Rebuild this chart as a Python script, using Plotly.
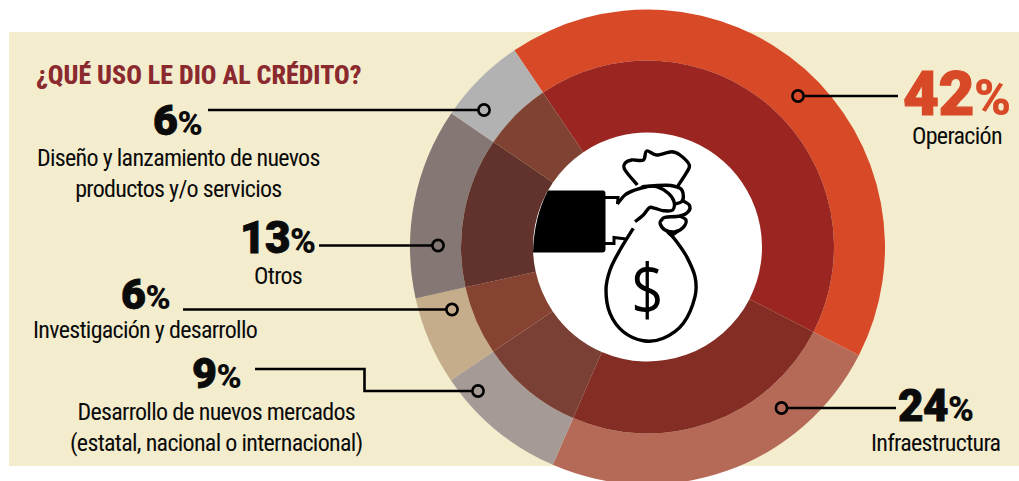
import plotly.graph_objects as go

W, H = 1019, 490  # the window shows the top 481 px; the ring runs off the bottom edge
categories = ["Operación", "Infraestructura", "Desarrollo de nuevos mercados<br>(estatal, nacional o internacional)",
              "Investigación y desarrollo", "Otros", "Diseño y lanzamiento de nuevos<br>productos y/o servicios"]
values = [42, 24, 9, 6, 13, 6]
outer_colors = ["#D84A27", "#B56A58", "#A69A97", "#C5AC8B", "#857874", "#B2B2B2"]
inner_colors = ["#9B2621", "#832D25", "#7A4036", "#874331", "#62332C", "#7F4233"]
title_text = "¿QUÉ USO LE DIO AL CRÉDITO?"

CX, CY, R_OUT, R_MID, R_IN = 647.5, 247.0, 237.5, 186.5, 114.5
ROT = 325.9
NARROW = "'Roboto Condensed', Roboto, sans-serif"
BLACK = "#0b0b0b"


def dom(r):
    return dict(x=[(CX - r) / W, (CX + r) / W], y=[1 - (CY + r) / H, 1 - (CY - r) / H])


fig = go.Figure()
for r, hole, cols in [(R_OUT, R_MID / R_OUT, outer_colors), (R_MID, R_IN / R_MID, inner_colors)]:
    fig.add_trace(go.Pie(labels=categories, values=values, hole=hole, domain=dom(r), sort=False,
                         direction="clockwise", rotation=ROT, textinfo="none", hoverinfo="skip",
                         marker=dict(colors=cols, line=dict(width=0)), showlegend=False))


def smooth(pts):
    """Catmull-Rom path through icon outline points."""
    n = len(pts)
    d = f"M{pts[0][0]:.1f},{pts[0][1]:.1f}"
    for i in range(n - 1):
        p0 = pts[max(i - 1, 0)]
        p1, p2 = pts[i], pts[i + 1]
        p3 = pts[min(i + 2, n - 1)]
        c1 = (p1[0] + (p2[0] - p0[0]) / 6, p1[1] + (p2[1] - p0[1]) / 6)
        c2 = (p2[0] - (p3[0] - p1[0]) / 6, p2[1] - (p3[1] - p1[1]) / 6)
        d += f" C{c1[0]:.1f},{c1[1]:.1f} {c2[0]:.1f},{c2[1]:.1f} {p2[0]:.1f},{p2[1]:.1f}"
    return d


def z5(pts):
    return [(600 + x / 3, 140 + y / 3) for x, y in pts]


def z6(pts):
    return [(600 + x / 3, 220 + y / 3) for x, y in pts]


def stroke(path, w=3.4):
    return dict(type="path", path=path, xref="x", yref="y", line=dict(color="#000", width=w), layer="above")


def seg(*pts, w=2.6):
    d = "M" + " L".join(f"{x},{y}" for x, y in pts)
    return dict(type="path", path=d, xref="x", yref="y", line=dict(color="#000", width=w), layer="above")


def ring(x, y, r=5.6):
    return dict(type="circle", x0=x - r, x1=x + r, y0=y - r, y1=y + r, xref="x", yref="y",
                line=dict(color="#000", width=2.6), layer="above")


shapes = [
    dict(type="rect", x0=9, x1=W, y0=32, y1=466, xref="x", yref="y", fillcolor="#F3EDCE",
         line=dict(width=0), layer="below"),
    dict(type="circle", x0=CX - R_IN - 1, x1=CX + R_IN + 1, y0=CY - R_IN - 1, y1=CY + R_IN + 1, xref="x", yref="y",
         fillcolor="#FFFFFF", line=dict(width=0), layer="below"),
    # sleeve
    dict(type="path", xref="x", yref="y", layer="above", fillcolor="#000", line=dict(width=0),
         path="M548,190.5 L603,190.5 Q605.5,190.5 605.5,194 L605.5,249 Q605.5,252.5 602,252.5 L533,252.5 "
              "Q534,217 548,190.5 Z"),
    # cuff
    seg((605, 197.5), (618, 197.5), (617.5, 204), w=3),
    seg((605, 243.5), (614, 243.5), (614, 237.5), (626, 239), w=3),
    # knot
    stroke(smooth(z5([(112, 135), (75, 90), (75, 70), (95, 60), (130, 60), (140, 33), (170, 45), (215, 35),
                      (240, 45), (268, 75), (258, 100), (232, 140)]))),
    # hand top and thumb
    stroke(smooth(z5([(52, 192), (75, 165), (105, 150), (140, 140), (170, 140), (205, 160), (222, 185), (218, 210),
                      (190, 212), (165, 205), (148, 203), (130, 225), (105, 245)]))),
    stroke(smooth(z5([(125, 140), (200, 136), (240, 145), (250, 165), (245, 185), (225, 192)]))),
    stroke(smooth(z5([(245, 180), (268, 195), (265, 215), (240, 228), (195, 232), (185, 240), (180, 250), (195, 270),
                      (225, 275), (250, 262), (258, 240), (240, 228)]))),
    stroke(smooth(z5([(200, 272), (215, 285), (235, 272)]))),
    # bag
    stroke(smooth(z6([(100, 25), (60, 90), (30, 150), (18, 210), (30, 280), (70, 335), (130, 362), (190, 355),
                      (250, 310), (285, 230), (285, 170), (260, 110), (230, 65), (205, 35)]))),
    # leader lines
    seg((208, 110), (479, 110)), ring(484, 110),
    seg((319, 245.5), (433, 245.5)), ring(438, 245.5),
    seg((183, 309.5), (447, 309.5)), ring(452, 309.5),
    seg((255, 369), (364.5, 369), (364.5, 391), (473, 391)), ring(478, 391),
    seg((803, 96), (898, 96)), ring(798, 96),
    seg((787, 408), (896, 408)), ring(781.5, 408),
]


def pct(v, size, color):
    thick = f"stroke:{color};stroke-width:{size * 0.02:.2f}px"
    return (f"<span style=\"font-family:Roboto;font-weight:900;font-size:{size}px;letter-spacing:-0.5px;{thick}\">{v}</span>"
            f"<span style=\"font-family:Roboto;font-weight:900;font-size:{size * 0.8:.0f}px;letter-spacing:-0.5px\">%</span>")


def tight(text, spacing=-0.7):
    return "<br>".join(f"<span style=\"letter-spacing:{spacing}px\">{t}</span>" for t in text.split("<br>"))


def note(x, y, text, size=24, color=BLACK, family=NARROW):
    return dict(x=x, y=y, xref="x", yref="y", text=text, showarrow=False, xanchor="center", yanchor="middle",
                align="center", font=dict(family=family, size=size, color=color))


pct_pos = [(957, 93, 62, "#D84A27"), (936, 406, 44, BLACK), (216, 373, 43, BLACK), (145, 294, 43, BLACK),
           (278, 238, 44, BLACK), (177, 120, 43, BLACK)]
label_pos = [(957, 136), (936, 443), (216, 427), (145, 330), (278, 276), (178, 173)]
annotations = [note(199, 75, f"<span style=\"font-weight:800\">{title_text}</span>", size=26, color="#8B2A2E")]
for v, (x, y, s, c), cat, (lx, ly) in zip(values, pct_pos, categories, label_pos):
    annotations.append(note(x, y, pct(v, s, c), size=s, color=c))
    annotations.append(note(lx, ly, tight(cat)))
annotations.append(note(647, 287, "<span style=\"font-stretch:87%\">$</span>", size=72, color="#000",
                        family="'Open Sans', sans-serif"))

fig.update_layout(
    width=W, height=H, margin=dict(l=0, r=0, t=0, b=0), paper_bgcolor="#FFFFFF", plot_bgcolor="rgba(0,0,0,0)",
    xaxis=dict(range=[0, W], visible=False, fixedrange=True),
    yaxis=dict(range=[H, 0], visible=False, fixedrange=True),
    showlegend=False, shapes=shapes, annotations=annotations,
)
fig.write_html("out.html", config={"displayModeBar": False},
               post_script="document.body.style.margin='0';document.documentElement.style.overflow='hidden';")
